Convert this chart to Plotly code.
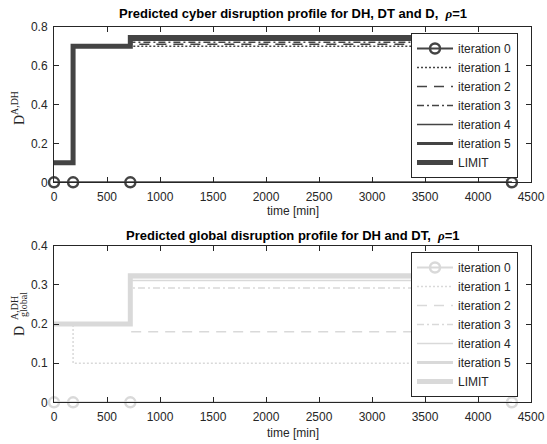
import plotly.graph_objects as go

# ---- data ----
time_min = [0, 180, 720, 4320]
names = ["iteration 0", "iteration 1", "iteration 2", "iteration 3", "iteration 4", "iteration 5", "LIMIT"]

cyber_it0 = [0, 0, 0, 0]
cyber_it1 = [0.1, 0.7, 0.70, 0.70]
cyber_it2 = [0.1, 0.7, 0.71, 0.71]
cyber_it3 = [0.1, 0.7, 0.72, 0.72]
cyber_it4 = [0.1, 0.7, 0.73, 0.73]
cyber_it5 = [0.1, 0.7, 0.74, 0.74]
cyber_limit = [0.1, 0.7, 0.745, 0.745]

global_it0 = [0, 0, 0, 0]
global_it1 = [0.2, 0.1, 0.1, 0.1]
global_it2 = [0.2, 0.2, 0.18, 0.18]
global_it3 = [0.2, 0.2, 0.292, 0.292]
global_it4 = [0.2, 0.2, 0.311, 0.311]
global_it5 = [0.2, 0.2, 0.32, 0.32]
global_limit = [0.2, 0.2, 0.323, 0.323]

x_ticks = [0, 500, 1000, 1500, 2000, 2500, 3000, 3500, 4000, 4500]
y_ticks_top = [0, 0.2, 0.4, 0.6, 0.8]
y_ticks_bot = [0, 0.1, 0.2, 0.3, 0.4]

# ---- styles ----
styles = [
    dict(width=2, dash="solid"),
    dict(width=1.5, dash="2px,2px"),
    dict(width=1.5, dash="10px,7px"),
    dict(width=1.5, dash="7px,3px,2px,3px"),
    dict(width=1.5, dash="solid"),
    dict(width=3, dash="solid"),
    dict(width=5, dash="solid"),
]

fig = go.Figure()

def add_series(series, color, xa, ya, legend):
    for i, (nm, ys) in enumerate(zip(names, series)):
        st = styles[i]
        if i == 0:
            kw = dict(mode="lines+markers",
                      marker=dict(symbol="circle-open", size=10, color=color,
                                  line=dict(width=2.5, color=color)))
        else:
            kw = dict(mode="lines")
        fig.add_trace(go.Scatter(
            x=time_min, y=ys, name=nm, xaxis=xa, yaxis=ya, legend=legend,
            cliponaxis=False,
            line=dict(color=color, width=st["width"], dash=st["dash"], shape="hv"),
            **kw))

add_series([cyber_it0, cyber_it1, cyber_it2, cyber_it3, cyber_it4, cyber_it5, cyber_limit],
           "#444444", "x", "y", "legend")
add_series([global_it0, global_it1, global_it2, global_it3, global_it4, global_it5, global_limit],
           "#d9d9d9", "x2", "y2", "legend2")

axis_common = dict(showline=True, linecolor="#262626", linewidth=1, mirror="ticks",
                   ticks="inside", ticklen=5, tickwidth=1, tickcolor="#262626",
                   showgrid=False, zeroline=False, automargin=False,
                   tickfont=dict(family="Liberation Sans, Arial", size=12, color="#262626"))

W, H = 547, 444
xdom = [54 / W, 531 / W]
ydom_top = [1 - 182.3 / H, 1 - 26.7 / H]
ydom_bot = [1 - 402.3 / H, 1 - 245.7 / H]

legend_common = dict(bgcolor="white", bordercolor="#262626", borderwidth=1,
                     font=dict(family="Liberation Sans, Arial", size=12, color="#262626"),
                     xanchor="left", yanchor="top", tracegroupgap=0, itemwidth=36)

fig.update_layout(
    width=W, height=H, autosize=False,
    margin=dict(l=0, r=0, t=0, b=0, autoexpand=False),
    paper_bgcolor="white", plot_bgcolor="white",
    xaxis=dict(domain=xdom, range=[0, 4500], tickvals=x_ticks, anchor="y",
               ticklabelstandoff=3, **axis_common),
    yaxis=dict(domain=ydom_top, range=[0, 0.8], tickvals=y_ticks_top,
               ticktext=["0", "0.2", "0.4", "0.6", "0.8"], anchor="x",
               ticklabelstandoff=3, **axis_common),
    xaxis2=dict(domain=xdom, range=[0, 4500], tickvals=x_ticks, anchor="y2",
                ticklabelstandoff=3, **axis_common),
    yaxis2=dict(domain=ydom_bot, range=[0, 0.4], tickvals=y_ticks_bot,
                ticktext=["0", "0.1", "0.2", "0.3", "0.4"], anchor="x2",
                ticklabelstandoff=3, **axis_common),
    legend=dict(x=411 / W, y=1 - 33 / H, **legend_common),
    legend2=dict(x=411 / W, y=1 - 252 / H, **legend_common),
    showlegend=True,
)

title_font = dict(family="Liberation Sans, Arial", size=13, color="black")
lab_font = dict(family="Liberation Sans, Arial", size=12, color="#262626")
serif = dict(family="Liberation Serif, DejaVu Serif", size=14, color="#262626")
small_serif = dict(family="Liberation Serif, DejaVu Serif", size=10, color="#262626")
rho = '<span style="font-family:Liberation Serif"><i>ρ</i></span>'
xc = (xdom[0] + xdom[1]) / 2

annots = [
    dict(text="<b>Predicted cyber disruption profile for DH, DT and D,  " + rho + "=1</b>",
         x=xc, y=1 - 13 / H, font=title_font),
    dict(text="<b>Predicted global disruption profile for DH and DT,  " + rho + "=1</b>",
         x=xc, y=1 - 235 / H, font=title_font),
    dict(text="time [min]", x=xc, y=1 - 211 / H, font=lab_font),
    dict(text="time [min]", x=xc, y=1 - 433 / H, font=lab_font),
    dict(text="D<sup>A,DH</sup>", x=18 / W, y=1 - 108 / H, textangle=-90, font=serif),
    dict(text="D", x=19 / W, y=1 - 331 / H, textangle=-90, font=serif),
    dict(text="A,DH", x=14 / W, y=1 - 308 / H, textangle=-90, font=small_serif),
    dict(text="global", x=23 / W, y=1 - 305 / H, textangle=-90, font=small_serif),
]
for a in annots:
    a.update(xref="paper", yref="paper", showarrow=False, xanchor="center", yanchor="middle")
fig.update_layout(annotations=annots)

fig.write_html("out.html", config={"displayModeBar": False},
               post_script="document.body.style.margin='0';document.body.style.padding='0';")
